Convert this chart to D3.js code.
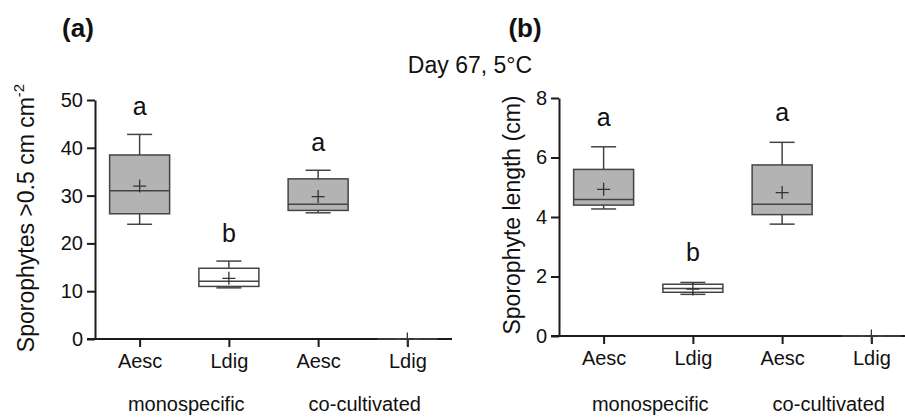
<!DOCTYPE html>
<html>
<head>
<meta charset="utf-8">
<script src="https://cdn.jsdelivr.net/npm/d3@7"></script>
<style>
  body { margin: 0; background: #fff; }
  svg { display: block; font-family: Arial, "Liberation Sans", sans-serif; }
  .axis path, .axis line { stroke: #1a1a1a; stroke-width: 2; }
  .axis text { font-size: 20px; fill: #111; font-family: Arial, "Liberation Sans", sans-serif; }
</style>
</head>
<body>
<script>
// categories along x
var categories = ["Aesc", "Ldig", "Aesc", "Ldig"];
var groups = ["monospecific", "co-cultivated"];
var boxFill = ["#b3b3b3", "#ffffff", "#b3b3b3", "#ffffff"];

// panel (a) sporophyte density (per cm2)
var densityMin    = [24.0, 10.7, 26.4, 0];
var densityQ1     = [26.2, 11.0, 26.9, 0];
var densityMedian = [31.0, 12.1, 28.2, 0];
var densityQ3     = [38.5, 14.8, 33.5, 0];
var densityMax    = [42.8, 16.3, 35.3, 0];
var densityMean   = [32.0, 12.7, 29.8, 0];
var densityLetters = ["a", "b", "a", ""];
var densityTicks = [0, 10, 20, 30, 40, 50];

// panel (b) sporophyte length (cm)
var lengthMin    = [4.27, 1.40, 3.76, 0];
var lengthQ1     = [4.40, 1.47, 4.08, 0];
var lengthMedian = [4.59, 1.60, 4.43, 0];
var lengthQ3     = [5.60, 1.74, 5.75, 0];
var lengthMax    = [6.36, 1.80, 6.51, 0];
var lengthMean   = [4.93, 1.58, 4.82, 0];
var lengthLetters = ["a", "b", "a", ""];
var lengthTicks = [0, 2, 4, 6, 8];

var width = 905, height = 417;

var svg = d3.select("body").append("svg")
    .attr("width", width)
    .attr("height", height);

// title in the middle
svg.append("text")
    .attr("x", 470).attr("y", 73)
    .attr("text-anchor", "middle")
    .style("font-size", "23px")
    .attr("fill", "#111")
    .text("Day 67, 5°C");

function buildRows(mins, q1s, meds, q3s, maxs, means, letters){
    return categories.map(function(c, i){
        return {i: i, cat: c, min: mins[i], q1: q1s[i], med: meds[i], q3: q3s[i],
                max: maxs[i], mean: means[i], letter: letters[i], fill: boxFill[i]};
    });
}

function drawPanel(opt){
    var g = svg.append("g");

    var x = d3.scalePoint()
        .domain(d3.range(categories.length))
        .range([opt.x0, opt.x1])
        .padding(0.5);

    var y = d3.scaleLinear()
        .domain([0, opt.ymax])
        .range([opt.y0, opt.y1]);

    // y axis
    g.append("g")
        .attr("class", "axis")
        .attr("transform", "translate(" + opt.x0 + ",0)")
        .call(d3.axisLeft(y).tickValues(opt.ticks).tickSize(8).tickSizeOuter(0).tickPadding(4));

    // x axis
    var xa = g.append("g")
        .attr("class", "axis")
        .attr("transform", "translate(0," + opt.y0 + ")")
        .call(d3.axisBottom(x).tickSize(8).tickSizeOuter(0).tickPadding(7)
            .tickFormat(function(d){ return categories[d]; }));
    xa.select(".domain").attr("d", "M" + (opt.x0 - 8) + ",0H" + opt.x1);

    // group labels under each pair
    groups.forEach(function(name, k){
        var cx = (x(k * 2) + x(k * 2 + 1)) / 2;
        g.append("text")
            .attr("x", cx + 2).attr("y", opt.groupY)
            .attr("text-anchor", "middle")
            .style("font-size", "20px")
            .attr("fill", "#111")
            .text(name);
    });

    var rows = opt.rows;
    var bw = 60, cap = 25, plus = 6.5;

    var box = g.selectAll(".box")
        .data(rows)
        .enter()
        .append("g")
        .attr("class", "box");

    // whiskers
    box.append("line")
        .attr("x1", function(d){ return x(d.i); })
        .attr("x2", function(d){ return x(d.i); })
        .attr("y1", function(d){ return y(d.min); })
        .attr("y2", function(d){ return y(d.max); })
        .attr("stroke", "#444").attr("stroke-width", 1.5);
    box.selectAll(".cap")
        .data(function(d){ return [d, d].map(function(r, k){ return {i: r.i, v: k ? r.max : r.min}; }); })
        .enter()
        .append("line")
        .attr("x1", function(d){ return x(d.i) - cap / 2; })
        .attr("x2", function(d){ return x(d.i) + cap / 2; })
        .attr("y1", function(d){ return y(d.v); })
        .attr("y2", function(d){ return y(d.v); })
        .attr("stroke", "#444").attr("stroke-width", 1.5);

    // box
    box.append("rect")
        .attr("x", function(d){ return x(d.i) - bw / 2; })
        .attr("width", bw)
        .attr("y", function(d){ return y(d.q3); })
        .attr("height", function(d){ return y(d.q1) - y(d.q3); })
        .attr("fill", function(d){ return d.fill; })
        .attr("stroke", "#444").attr("stroke-width", 1.5);

    // median
    box.append("line")
        .attr("x1", function(d){ return x(d.i) - bw / 2; })
        .attr("x2", function(d){ return x(d.i) + bw / 2; })
        .attr("y1", function(d){ return y(d.med); })
        .attr("y2", function(d){ return y(d.med); })
        .attr("stroke", "#444").attr("stroke-width", 1.5);

    // mean "+"
    box.append("path")
        .attr("d", function(d){
            var cx = x(d.i), cy = y(d.mean);
            return "M" + (cx - plus) + "," + cy + "H" + (cx + plus) +
                   "M" + cx + "," + (cy - plus) + "V" + (cy + plus);
        })
        .attr("stroke", "#333").attr("stroke-width", 1.3).attr("fill", "none");

    // significance letters
    box.append("text")
        .attr("x", function(d){ return x(d.i); })
        .attr("y", function(d){ return y(d.max) - opt.letterGap; })
        .attr("text-anchor", "middle")
        .style("font-size", "25px")
        .attr("fill", "#111")
        .text(function(d){ return d.letter; });

    // y title
    var t = g.append("text")
        .attr("transform", "translate(" + opt.titleX + "," + opt.titleY + ") rotate(-90)")
        .attr("text-anchor", "middle")
        .style("font-size", "23px")
        .attr("fill", "#111");
    t.append("tspan").text(opt.title);
    if (opt.sup) {
        t.append("tspan").attr("dy", -10).style("font-size", "15px").text(opt.sup);
    }

    // panel label
    g.append("text")
        .attr("x", opt.labelX).attr("y", 37)
        .attr("text-anchor", "middle")
        .style("font-size", "26px")
        .style("font-weight", "bold")
        .attr("fill", "#111")
        .text(opt.label);
}

drawPanel({
    x0: 95, x1: 452, y0: 339, y1: 100, ymax: 50, ticks: densityTicks,
    rows: buildRows(densityMin, densityQ1, densityMedian, densityQ3, densityMax, densityMean, densityLetters),
    letterGap: 19, groupY: 411,
    title: "Sporophytes >0.5 cm cm", sup: "-2", titleX: 34, titleY: 218,
    label: "(a)", labelX: 78
});

drawPanel({
    x0: 559, x1: 916, y0: 336, y1: 98, ymax: 8, ticks: lengthTicks,
    rows: buildRows(lengthMin, lengthQ1, lengthMedian, lengthQ3, lengthMax, lengthMean, lengthLetters),
    letterGap: 21, groupY: 411,
    title: "Sporophyte length (cm)", sup: null, titleX: 520, titleY: 215,
    label: "(b)", labelX: 525
});
</script>
</body>
</html>
